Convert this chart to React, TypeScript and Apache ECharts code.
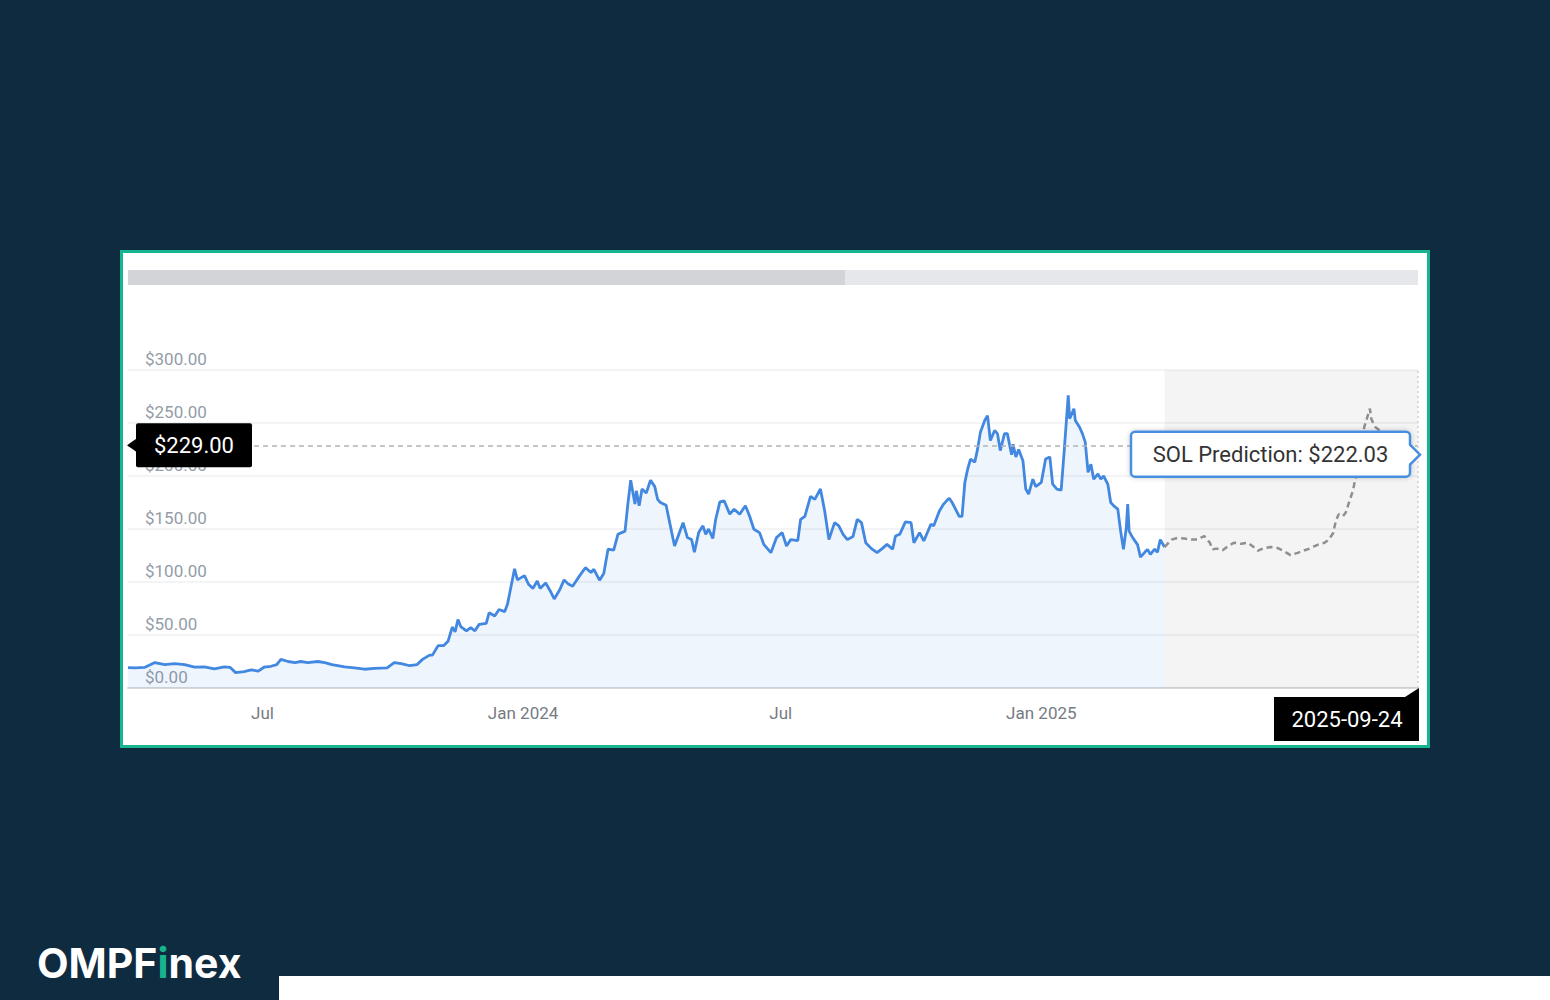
import React, { useEffect, useRef } from "react";
import * as echarts from "echarts";

// day 0 = 2023-07-01 (UTC)
const BASE_DATE_UTC = Date.UTC(2023, 6, 1);
const DAY_MS = 86400000;
const axisStartDay = -95; // 2023-03-28
const axisEndDay = 816; // 2025-09-24

const historyDays = [
  -95, -90, -83, -76, -69, -62, -55, -48, -41, -34, -27, -23, -19, -13, -8, -3, 1, 6, 10, 13, 18, 23, 27, 32, 39,
  44, 49, 58, 65, 72, 79, 88, 93, 98, 104, 109, 113, 118, 120, 124, 128, 131, 134, 136, 138, 140, 144, 147, 150,
  153, 158, 160, 164, 167, 171, 173, 178, 180, 185, 188, 191, 194, 196, 200, 203, 206, 210, 213, 216, 219, 224,
  228, 232, 234, 238, 241, 244, 248, 251, 256, 258, 260, 263, 264, 266, 268, 271, 274, 277, 279, 281, 285, 289,
  291, 294, 297, 300, 303, 305, 308, 311, 313, 315, 318, 320, 323, 326, 330, 333, 337, 341, 344, 347, 351, 354,
  359, 363, 367, 370, 373, 378, 380, 383, 387, 390, 394, 397, 400, 404, 407, 410, 413, 417, 420, 423, 426, 430,
  434, 438, 441, 445, 447, 450, 454, 458, 460, 464, 467, 472, 474, 478, 481, 484, 485, 487, 492, 494, 496, 498,
  500, 503, 505, 507, 510, 512, 514, 517, 519, 521, 524, 526, 529, 530, 532, 534, 537, 539, 541, 544, 546, 550,
  553, 556, 558, 561, 564, 566, 569, 570, 573, 574, 577, 579, 581, 583, 585, 587, 590, 592, 594, 597, 599, 601,
  604, 606, 608, 610, 611, 612, 614, 618, 620, 623, 625, 627, 630, 632, 634, 637,
];
const historyPrices = [
  19.3, 19, 19.5, 24, 22, 23, 22, 19.6, 20, 18, 20, 19.5, 14.5, 15.5, 17, 16, 19.6, 20.5, 22, 27, 25, 24, 25, 24,
  25, 24, 22, 20, 19, 17.7, 18.5, 19, 24, 23, 21, 22, 27, 31, 31, 40, 40, 44, 57.5, 53, 64.5, 58, 54, 57, 54, 60,
  61, 71, 68, 74, 72, 79, 112.5, 102, 106, 97.6, 94, 101, 94, 99, 92, 84, 93, 102, 98, 96, 106, 113.5, 109, 112,
  101.7, 108, 131, 130, 145, 148, 173.5, 196, 173.5, 186, 172, 187.7, 184, 196, 190, 178, 175, 172.5, 146.6, 134,
  145, 156, 142, 140, 128, 146.6, 153, 145, 150, 141, 159, 175.6, 176.6, 164, 168.7, 164, 172, 162, 149.8, 146.6,
  135.5, 127.7, 142, 146.6, 134, 140, 139, 159, 162, 180.7, 178, 187.7, 167, 140, 156, 153, 145, 140, 143, 159,
  156, 137, 131.5, 127.7, 132, 135.5, 131, 143.4, 145, 156.7, 156, 137, 146.6, 138.7, 154.5, 153, 167, 173.5, 178,
  179, 175, 162, 162, 194, 206.6, 216, 213, 225.6, 241.4, 252.4, 257, 233.5, 243, 240, 224, 240, 240, 220, 230,
  218, 225, 214.5, 187.7, 183, 197, 190, 194, 216, 218, 192.4, 187.7, 186.7, 221, 276, 254, 263.5, 252.4, 246, 240,
  232, 203.5, 211, 197, 202, 197, 200, 192, 175, 172, 168.7, 148, 130.8, 151.4, 173.5, 148, 143, 135, 123.5, 128,
  130.8, 126, 131, 128, 140, 133,
];

const predictionDays = [
  637, 642, 646, 651, 656, 660, 665, 669, 671, 674, 678, 682, 686, 691, 696, 699, 703, 707, 712, 717, 722, 726, 731,
  736, 740, 745, 750, 753, 756, 758, 760, 763, 765, 767, 770, 772, 774, 777, 778, 782, 783, 784, 786, 792, 799, 806,
  811, 816,
];
const predictionPrices = [
  133, 140, 141.5, 141, 140, 140, 143.4, 137, 130.8, 131.5, 130, 134, 137, 136, 137, 134, 129.5, 132, 133, 132,
  128.5, 125.4, 127.5, 130, 131.8, 135, 137, 140, 146, 157.7, 164, 162, 165.6, 174, 186, 198.8, 214.5, 233, 246,
  263.5, 254, 251, 246, 240, 235, 229, 226, 222.03,
];

const priceTicks = [0, 50, 100, 150, 200, 250, 300];
const currentPrice = 229;
const predictedPrice = 222.03;
const predictionStartDay = 637;
const endDateLabel = "2025-09-24";
const predictionLabel = "SOL Prediction";
const brandParts = ["OMPF", "i", "nex"];

const toTime = (d: number) => BASE_DATE_UTC + d * DAY_MS;
const money = (v: number) => "$" + v.toFixed(2);

const FONT = "Roboto, 'Noto Sans', sans-serif";
const GREEN = "#17b48f";
const BLUE = "#4287e0";

export default function App() {
  const ref = useRef<HTMLDivElement>(null);

  useEffect(() => {
    if (!ref.current) return;
    const chart = echarts.init(ref.current, null, { renderer: "svg" });

    const historyData = historyDays.map((d, i) => [toTime(d), historyPrices[i]]);
    const predictionData = predictionDays.map((d, i) => [toTime(d), predictionPrices[i]]);

    const option: any = {
      animation: false,
      useUTC: true,
      backgroundColor: "#0f2b40",
      grid: { left: 128, right: 132, top: 370, bottom: 312 },
      xAxis: {
        type: "time",
        min: toTime(axisStartDay),
        max: toTime(axisEndDay),
        maxInterval: 100 * DAY_MS,
        axisLine: { show: true, lineStyle: { color: "#d6d8db", width: 2 } },
        axisTick: { show: false },
        splitLine: { show: false },
        axisLabel: {
          interval: 0,
          margin: 16,
          color: "#767b82",
          fontSize: 17,
          fontFamily: FONT,
          formatter: (val: number) => {
            const dt = new Date(val);
            if (dt.getUTCDate() !== 1) return "";
            if (val > toTime(axisEndDay - 120)) return "";
            const m = dt.getUTCMonth();
            if (m === 0) return "Jan " + dt.getUTCFullYear();
            if (m === 6) return "Jul";
            return "";
          },
        },
      },
      yAxis: {
        type: "value",
        min: priceTicks[0],
        max: priceTicks[priceTicks.length - 1],
        interval: priceTicks[1] - priceTicks[0],
        axisLine: { show: false },
        axisTick: { show: false },
        splitLine: { show: true, lineStyle: { color: "#eff0f2", width: 1.5 } },
        axisLabel: {
          inside: true,
          margin: 17,
          verticalAlign: "bottom",
          padding: [0, 0, 3, 0],
          color: "#939ca8",
          fontSize: 17,
          fontFamily: FONT,
          formatter: (v: number) => money(v),
        },
      },
      series: [
        {
          name: "SOL",
          type: "line",
          data: historyData,
          showSymbol: false,
          symbol: "none",
          z: 3,
          lineStyle: { color: BLUE, width: 2.8 },
          areaStyle: { color: "rgba(66,135,224,0.12)" },
          markLine: {
            silent: true,
            symbol: "none",
            label: { show: false },
            data: [
              { yAxis: currentPrice, lineStyle: { type: [5, 4], color: "#b3b3b3", width: 1.5 } },
              { xAxis: toTime(axisEndDay), lineStyle: { type: [2, 3], color: "#cfd1d4", width: 1.5 } },
            ],
          },
        },
        {
          name: predictionLabel,
          type: "line",
          data: predictionData,
          showSymbol: false,
          symbol: "none",
          z: 4,
          lineStyle: { color: "#8f8f8f", width: 2.5, type: [6, 4] },
          markArea: {
            silent: true,
            itemStyle: { color: "rgba(0,0,0,0.045)" },
            data: [[{ xAxis: toTime(predictionStartDay) }, { xAxis: toTime(axisEndDay) }]],
          },
        },
      ],
    };
    chart.setOption(option);

    const toX = (d: number) => chart.convertToPixel({ xAxisIndex: 0 }, toTime(d)) as number;
    const toY = (v: number) => chart.convertToPixel({ yAxisIndex: 0 }, v) as number;
    const xL = toX(axisStartDay);
    const xR = toX(axisEndDay);
    const yBase = toY(0);
    const yCur = toY(currentPrice);
    const yPred = toY(predictedPrice) + 2;

    const boxLeftX = xL + 8;
    const predBoxRight = xR - 8;
    const predBoxLeft = predBoxRight - 279;

    chart.setOption({
      graphic: [
        {
          type: "rect",
          z: -5,
          shape: { x: 121.5, y: 251.5, width: 1307, height: 495 },
          style: { fill: "#ffffff", stroke: GREEN, lineWidth: 3 },
        },
        {
          type: "rect",
          z: -4,
          shape: { x: xL, y: 270, width: xR - xL, height: 15 },
          style: { fill: "#e6e7ea" },
        },
        {
          type: "rect",
          z: -3,
          shape: { x: xL, y: 270, width: 717, height: 15 },
          style: { fill: "#d2d4d8" },
        },
        // current price badge
        {
          type: "polygon",
          z: 50,
          shape: { points: [[xL - 1, yCur], [boxLeftX + 1, yCur - 7], [boxLeftX + 1, yCur + 7]] },
          style: { fill: "#000" },
        },
        {
          type: "rect",
          z: 50,
          shape: { x: boxLeftX, y: yCur - 22, width: 116, height: 44, r: 2 },
          style: { fill: "#000" },
        },
        {
          type: "text",
          z: 51,
          x: boxLeftX + 58,
          y: yCur,
          style: {
            text: money(currentPrice),
            fill: "#ffffff",
            fontSize: 22,
            fontFamily: FONT,
            align: "center",
            verticalAlign: "middle",
          },
        },
        // prediction callout
        {
          type: "rect",
          z: 50,
          shape: { x: predBoxLeft, y: yPred - 23, width: 279, height: 45, r: 4 },
          style: {
            fill: "#ffffff",
            stroke: "#4a8fe0",
            lineWidth: 2.5,
            shadowBlur: 5,
            shadowColor: "rgba(0,0,0,0.2)",
          },
        },
        {
          type: "polygon",
          z: 51,
          shape: { points: [[predBoxRight - 2, yPred - 10], [xR + 2, yPred], [predBoxRight - 2, yPred + 10]] },
          style: { fill: "#ffffff" },
        },
        {
          type: "polyline",
          z: 52,
          shape: { points: [[predBoxRight, yPred - 10], [xR + 2, yPred], [predBoxRight, yPred + 10]] },
          style: { stroke: "#4a8fe0", lineWidth: 2.5, fill: null },
        },
        {
          type: "text",
          z: 52,
          x: predBoxLeft + 139.5,
          y: yPred,
          style: {
            text: predictionLabel + ": " + money(predictedPrice),
            fill: "#333333",
            fontSize: 22,
            fontFamily: FONT,
            align: "center",
            verticalAlign: "middle",
          },
        },
        // end date badge
        {
          type: "polygon",
          z: 50,
          shape: {
            points: [
              [xR - 144, yBase + 9],
              [xR - 13, yBase + 9],
              [xR + 1, yBase],
              [xR + 1, yBase + 53],
              [xR - 144, yBase + 53],
            ],
          },
          style: { fill: "#000" },
        },
        {
          type: "text",
          z: 51,
          x: xR - 71,
          y: yBase + 31,
          style: {
            text: endDateLabel,
            fill: "#ffffff",
            fontSize: 22,
            fontFamily: FONT,
            align: "center",
            verticalAlign: "middle",
          },
        },
        // brand
        {
          type: "rect",
          z: 10,
          shape: { x: 279, y: 976, width: 1271, height: 24 },
          style: { fill: "#ffffff" },
        },
        {
          type: "text",
          z: 10,
          x: 37,
          y: 963,
          style: {
            text: "{a|" + brandParts[0] + "}{b|" + brandParts[1] + "}{a|" + brandParts[2] + "}",
            align: "left",
            verticalAlign: "middle",
            rich: {
              a: { fill: "#ffffff", fontSize: 41, fontWeight: "bold", fontFamily: "Inter, 'DejaVu Sans', sans-serif" },
              b: { fill: GREEN, fontSize: 41, fontWeight: "bold", fontFamily: "Inter, 'DejaVu Sans', sans-serif" },
            },
          },
        },
      ],
    });

    return () => chart.dispose();
  }, []);

  return (
    <div
      ref={ref}
      style={{ position: "fixed", left: 0, top: 0, width: 1550, height: 1000 }}
    />
  );
}
